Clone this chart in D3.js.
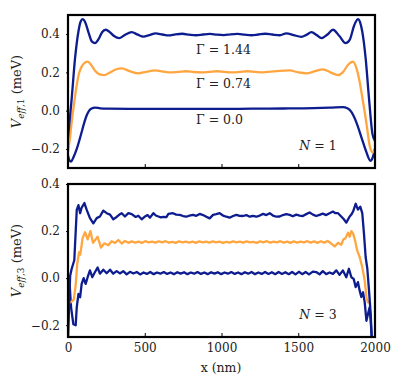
<!DOCTYPE html>
<head>
  <meta charset="utf-8">
  <script src="https://d3js.org/d3.v7.min.js"></script>
</head>
<style>
  body { margin: 0; background: #fff; }
  text { font-family: "DejaVu Serif", serif; fill: #222; }
</style>
<body>
  <svg id="chart"></svg>
</body>
<script>
  var w = 399;
  var h = 379;

  // x ticks (nm) and y ticks (meV)
  var xTicks = [0, 500, 1000, 1500, 2000];
  var yTicksTop = [-0.2, 0.0, 0.2, 0.4];
  var yTicksBot = [-0.2, 0.0, 0.2, 0.4];
  var gammaLabels = ["\u0393 = 1.44", "\u0393 = 0.74", "\u0393 = 0.0"];

  // N = 1 panel, [x (nm), V (meV)]
  var n1_g144 = [[0,-0.14],[12,-0.04],[24,0.063],[46,0.274],[68,0.414],[82,0.465],[96,0.478],[112,0.462],[135,0.405],[155,0.362],[176,0.353],[200,0.375],[222,0.41],[246,0.423],[270,0.412],[300,0.39],[333,0.379],[370,0.395],[415,0.41],[455,0.397],[491,0.387],[530,0.395],[571,0.404],[615,0.398],[655,0.393],[700,0.399],[745,0.402],[790,0.397],[835,0.394],[880,0.398],[925,0.401],[970,0.397],[1015,0.395],[1060,0.399],[1105,0.401],[1150,0.397],[1195,0.394],[1240,0.398],[1285,0.402],[1330,0.398],[1380,0.394],[1423,0.404],[1470,0.395],[1520,0.386],[1553,0.396],[1586,0.41],[1620,0.395],[1651,0.379],[1690,0.398],[1726,0.423],[1768,0.39],[1809,0.353],[1835,0.37],[1862,0.44],[1875,0.465],[1889,0.478],[1903,0.462],[1917,0.414],[1939,0.274],[1961,0.063],[1983,-0.12],[2000,-0.16]];
  var n1_g074 = [[0,-0.215],[10,-0.16],[24,-0.06],[40,0.04],[57,0.134],[72,0.195],[89,0.23],[108,0.25],[128,0.256],[150,0.24],[175,0.21],[205,0.19],[237,0.186],[270,0.198],[310,0.215],[350,0.221],[400,0.207],[458,0.195],[510,0.203],[567,0.21],[620,0.204],[670,0.2],[720,0.203],[770,0.206],[820,0.202],[870,0.2],[920,0.203],[970,0.206],[1020,0.203],[1070,0.2],[1120,0.203],[1170,0.206],[1220,0.203],[1270,0.2],[1320,0.204],[1380,0.208],[1444,0.21],[1500,0.2],[1553,0.195],[1610,0.206],[1661,0.216],[1710,0.2],[1759,0.186],[1790,0.2],[1825,0.24],[1857,0.256],[1880,0.22],[1900,0.151],[1917,0.07],[1933,-0.007],[1950,-0.1],[1965,-0.182],[1983,-0.217],[2000,-0.215]];
  var n1_g0 = [[0,-0.235],[8,-0.258],[20,-0.267],[35,-0.245],[57,-0.2],[89,-0.112],[105,-0.065],[122,-0.024],[138,0.0],[154,0.011],[176,0.016],[210,0.012],[260,0.01],[400,0.009],[600,0.009],[800,0.009],[1000,0.009],[1200,0.01],[1400,0.011],[1600,0.013],[1720,0.016],[1790,0.018],[1820,0.012],[1846,-0.007],[1878,-0.06],[1911,-0.138],[1944,-0.217],[1970,-0.262],[1985,-0.245],[2000,-0.2]];

  // N = 3 panel, [x (nm), V (meV)]
  var n3_hi = [[0,-0.27],[8,-0.1],[14,0.01],[24,0.04],[41,0.076],[57,0.29],[68,0.31],[79,0.276],[89,0.3],[107,0.319],[122,0.29],[143,0.255],[165,0.233],[187,0.255],[208,0.262],[230,0.287],[252,0.276],[274,0.27],[295,0.25],[317,0.26],[335,0.27],[350,0.276],[371,0.262],[393,0.276],[415,0.272],[441,0.26],[458,0.265],[480,0.25],[502,0.262],[518,0.268],[534,0.257],[556,0.276],[572,0.266],[589,0.262],[605,0.258],[621,0.26],[641,0.259],[654,0.273],[684,0.276],[705,0.27],[728,0.269],[750,0.264],[771,0.261],[792,0.266],[814,0.269],[836,0.265],[858,0.273],[880,0.268],[901,0.261],[923,0.254],[945,0.269],[966,0.272],[988,0.276],[1010,0.266],[1032,0.261],[1053,0.257],[1075,0.264],[1097,0.269],[1118,0.265],[1140,0.264],[1162,0.268],[1184,0.261],[1205,0.265],[1227,0.261],[1249,0.266],[1271,0.273],[1292,0.268],[1314,0.276],[1335,0.266],[1358,0.261],[1379,0.262],[1400,0.268],[1422,0.272],[1444,0.269],[1465,0.263],[1487,0.27],[1509,0.266],[1530,0.264],[1552,0.272],[1574,0.279],[1596,0.27],[1617,0.264],[1639,0.269],[1660,0.274],[1682,0.268],[1704,0.276],[1726,0.283],[1742,0.276],[1759,0.276],[1780,0.262],[1797,0.25],[1813,0.236],[1835,0.262],[1846,0.27],[1857,0.283],[1874,0.316],[1889,0.291],[1904,0.304],[1917,0.276],[1928,0.19],[1939,0.09],[1950,0.04],[1961,-0.053],[1972,-0.153],[1980,-0.27]];
  var n3_mid = [[0,-0.09],[10,-0.1],[20,-0.103],[30,-0.095],[38,-0.09],[50,-0.03],[60,0.06],[72,0.11],[80,0.1],[95,0.17],[111,0.195],[128,0.165],[146,0.2],[163,0.15],[180,0.165],[193,0.176],[215,0.13],[237,0.148],[263,0.14],[284,0.157],[306,0.15],[328,0.162],[350,0.147],[371,0.158],[393,0.15],[415,0.156],[437,0.151],[459,0.155],[481,0.15],[503,0.157],[525,0.152],[547,0.155],[569,0.151],[591,0.156],[613,0.152],[635,0.157],[657,0.151],[679,0.154],[701,0.15],[723,0.156],[745,0.152],[767,0.155],[789,0.151],[811,0.155],[833,0.15],[855,0.156],[877,0.152],[899,0.155],[921,0.151],[943,0.156],[965,0.152],[987,0.155],[1009,0.15],[1031,0.154],[1053,0.151],[1075,0.156],[1097,0.152],[1119,0.155],[1141,0.151],[1163,0.156],[1185,0.152],[1207,0.154],[1229,0.15],[1251,0.156],[1273,0.152],[1295,0.157],[1317,0.151],[1339,0.155],[1361,0.152],[1383,0.157],[1405,0.151],[1427,0.155],[1449,0.15],[1471,0.156],[1493,0.151],[1515,0.155],[1537,0.152],[1559,0.157],[1581,0.151],[1603,0.156],[1625,0.15],[1647,0.157],[1669,0.151],[1691,0.158],[1713,0.148],[1737,0.135],[1760,0.15],[1780,0.142],[1795,0.165],[1808,0.17],[1824,0.193],[1835,0.176],[1846,0.2],[1857,0.19],[1870,0.161],[1883,0.119],[1900,0.09],[1917,0.047],[1933,-0.01],[1944,-0.081],[1954,-0.103],[1962,-0.1]];
  var n3_lo = [[0,-0.05],[11,-0.03],[20,-0.124],[35,-0.196],[50,-0.2],[57,-0.124],[68,-0.067],[79,-0.081],[89,-0.024],[102,0.0],[115,-0.024],[128,0.004],[143,0.033],[158,0.004],[176,0.026],[193,0.045],[208,0.019],[230,0.036],[252,0.021],[274,0.036],[295,0.019],[317,0.03],[338,0.02],[360,0.03],[382,0.016],[404,0.027],[426,0.02],[448,0.026],[470,0.016],[492,0.024],[514,0.018],[536,0.026],[558,0.017],[580,0.024],[602,0.019],[624,0.026],[646,0.018],[668,0.024],[690,0.017],[712,0.025],[734,0.019],[756,0.025],[778,0.017],[800,0.024],[822,0.019],[844,0.026],[866,0.018],[888,0.024],[910,0.017],[932,0.025],[954,0.019],[976,0.025],[998,0.017],[1020,0.024],[1042,0.019],[1064,0.026],[1086,0.018],[1108,0.024],[1130,0.017],[1152,0.025],[1174,0.019],[1196,0.026],[1218,0.017],[1240,0.024],[1262,0.018],[1284,0.026],[1306,0.018],[1328,0.025],[1350,0.017],[1372,0.026],[1394,0.018],[1416,0.025],[1438,0.017],[1460,0.026],[1482,0.016],[1504,0.027],[1526,0.017],[1548,0.026],[1570,0.016],[1595,0.028],[1617,0.026],[1639,0.016],[1660,0.03],[1682,0.017],[1704,0.024],[1726,0.018],[1748,0.033],[1769,0.014],[1791,0.033],[1813,0.004],[1830,0.04],[1846,0.004],[1861,-0.003],[1874,-0.038],[1889,-0.017],[1900,-0.053],[1911,-0.08],[1922,-0.06],[1933,-0.103],[1944,-0.181],[1954,-0.153],[1965,-0.124],[1972,-0.181],[1980,-0.27]];

  var navy = "#0d1c8e";
  var orange = "#ffa640";

  var svg = d3.select("svg#chart")
      .attr("width", w)
      .attr("height", h);

  var x = d3.scaleLinear().domain([0, 2000]).range([68, 375]);

  var panels = [
    {top: 15, bottom: 168, domain: [-0.3, 0.5], ticks: yTicksTop, sub: "1", n: "1",
     series: [[n1_g0, navy, d3.curveMonotoneX], [n1_g074, orange, d3.curveMonotoneX], [n1_g144, navy, d3.curveMonotoneX]]},
    {top: 184, bottom: 337, domain: [-0.25, 0.4], ticks: yTicksBot, sub: "3", n: "3",
     series: [[n3_lo, navy, d3.curveLinear], [n3_mid, orange, d3.curveLinear], [n3_hi, navy, d3.curveLinear]]}
  ];

  panels.forEach(function(p, i){
    var y = d3.scaleLinear().domain(p.domain).range([p.bottom, p.top]);
    var g = svg.append("g");

    g.append("clipPath").attr("id", "clip" + i)
      .append("rect")
      .attr("x", 68).attr("y", p.top)
      .attr("width", 375 - 68).attr("height", p.bottom - p.top);

    var line = d3.line()
        .x(function(d){ return x(d[0]); })
        .y(function(d){ return y(d[1]); });

    p.series.forEach(function(s){
      g.append("path")
        .attr("clip-path", "url(#clip" + i + ")")
        .attr("d", line.curve(s[2])(s[0]))
        .attr("fill", "none")
        .attr("stroke", s[1])
        .attr("stroke-width", 2.3)
        .attr("stroke-linejoin", "round");
    });

    // bottom ticks (inward)
    var xAxis = d3.axisBottom(x).tickValues(xTicks).tickSize(-4)
        .tickFormat(i == 1 ? d3.format("d") : "");
    var gx = g.append("g")
        .attr("transform", "translate(0," + p.bottom + ")")
        .call(xAxis);
    gx.select(".domain").remove();
    gx.selectAll("line").attr("stroke", "#000");
    gx.selectAll("text")
      .attr("y", 6.5)
      .style("font-family", "DejaVu Serif")
      .style("font-size", "12px")
      .attr("fill", "#222");

    var yAxis = d3.axisLeft(y).tickValues(p.ticks).tickSize(2)
        .tickFormat(function(d){ return d3.format(".1f")(d).replace("-", "\u2212"); });
    var gy = g.append("g")
        .attr("transform", "translate(68,0)")
        .call(yAxis);
    gy.select(".domain").remove();
    gy.selectAll("line").attr("stroke", "#000");
    gy.selectAll("text")
      .attr("x", -8)
      .style("font-family", "DejaVu Serif")
      .style("font-size", "12px")
      .attr("fill", "#222");

    // frame
    g.append("rect")
      .attr("x", 68).attr("y", p.top)
      .attr("width", 375 - 68).attr("height", p.bottom - p.top)
      .attr("fill", "none")
      .attr("stroke", "#000")
      .attr("stroke-width", 2.2);

    // y label
    var cy = (p.top + p.bottom) / 2;
    var lab = g.append("text")
      .attr("transform", "translate(21," + cy + ") rotate(-90)")
      .attr("text-anchor", "middle")
      .style("font-size", "13px");
    lab.append("tspan").style("font-style", "italic").text("V");
    lab.append("tspan").attr("dy", 3).style("font-style", "italic").style("font-size", "9px").text("eff");
    lab.append("tspan").style("font-size", "9px").text("," + p.sub);
    lab.append("tspan").attr("dy", -3).text(" (meV)");

    // N label
    var nl = g.append("text")
      .attr("x", 318).attr("y", p.bottom - 18)
      .attr("text-anchor", "middle")
      .style("font-size", "12.5px");
    nl.append("tspan").style("font-style", "italic").text("N");
    nl.append("tspan").text(" = " + p.n);
  });

  // Gamma annotations in the N = 1 panel
  svg.selectAll("text.gam")
    .data(gammaLabels)
    .enter().append("text")
    .attr("class", "gam")
    .attr("x", 196)
    .attr("y", function(d, i){ return [54, 88, 124][i]; })
    .style("font-size", "12.5px")
    .text(function(d){ return d; });

  svg.append("text")
    .attr("x", 221).attr("y", 372)
    .attr("text-anchor", "middle")
    .style("font-size", "12.5px")
    .text("x (nm)");
</script>
